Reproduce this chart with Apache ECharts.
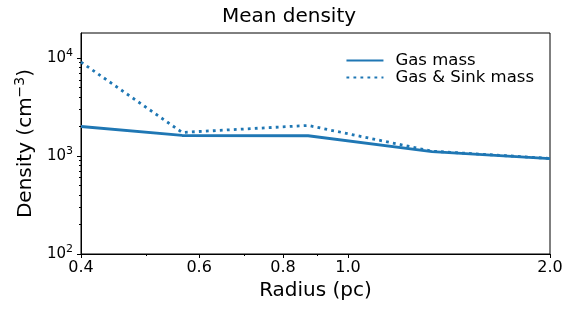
<!DOCTYPE html>
<html>
<head>
<meta charset="utf-8">
<script src="https://cdn.jsdelivr.net/npm/echarts@6/dist/echarts.min.js"></script>
<style>
  html, body { margin: 0; padding: 0; background: #fff; }
  #chart { width: 578px; height: 309px; }
</style>
</head>
<body>
<div id="chart"></div>
<script>
// radius (pc) of each sample
const radius = [0.4, 0.566, 0.872, 1.334, 2.0];
// mean density (cm^-3)
const gasMass = [2000, 1620, 1610, 1110, 940];
const gasSinkMass = [9100, 1740, 2050, 1120, 945];

const xTicks = [0.4, 0.6, 0.8, 1.0, 2.0];
const xTickLabels = ['0.4', '0.6', '0.8', '1.0', '2.0'];
const xMinorTicks = [0.5, 0.7, 0.9];
const yTicks = [100, 1000, 10000];
const yTickExp = ['2', '3', '4'];
const yMinorTicks = [200, 300, 400, 500, 600, 700, 800, 900,
  2000, 3000, 4000, 5000, 6000, 7000, 8000, 9000];

const blue = '#1f77b4';
const font = 'DejaVu Sans';

const chart = echarts.init(document.getElementById('chart'));

const pairs = ys => radius.map((x, i) => [x, ys[i]]);

const option = {
  animation: false,
  textStyle: { fontFamily: font },
  title: {
    text: 'Mean density',
    left: 'center',
    top: 2,
    textStyle: { fontFamily: font, fontSize: 20, fontWeight: 'normal', color: '#000' }
  },
  legend: {
    orient: 'vertical',
    right: 39,
    top: 47,
    itemWidth: 37,
    itemHeight: 14,
    itemGap: 0,
    itemStyle: { opacity: 0 },
    textStyle: { fontFamily: font, fontSize: 16.5, color: '#000', lineHeight: 17, padding: [0, 0, 0, 7] },
    data: ['Gas mass', 'Gas & Sink mass']
  },
  grid: {
    left: 81, right: 28, top: 33, bottom: 55,
    show: true, borderColor: '#000', borderWidth: 1
  },
  xAxis: [
    {
      type: 'log',
      min: 0.4,
      max: 2.0,
      name: 'Radius (pc)',
      nameLocation: 'middle',
      nameGap: 26,
      nameTextStyle: { fontFamily: font, fontSize: 20, color: '#000' },
      axisLine: { lineStyle: { color: '#000', width: 1 } },
      axisTick: { show: true, length: 4, lineStyle: { color: '#000' }, customValues: xTicks },
      axisLabel: {
        color: '#000', fontSize: 16, fontFamily: font, margin: 6,
        customValues: xTicks,
        formatter: v => {
          const i = xTicks.findIndex(t => Math.abs(t - v) < 1e-6);
          return i >= 0 ? xTickLabels[i] : '';
        }
      },
      splitLine: { show: false },
      minorTick: { show: false }
    },
    {
      type: 'log',
      min: 0.4,
      max: 2.0,
      position: 'bottom',
      axisLine: { show: false },
      axisTick: { show: true, length: 2, lineStyle: { color: '#000' }, customValues: xMinorTicks },
      axisLabel: { show: false, customValues: xMinorTicks },
      splitLine: { show: false }
    }
  ],
  yAxis: [
    {
      type: 'log',
      min: 100,
      max: 18000,
      name: 'Density (cm{sup|−3})',
      nameLocation: 'middle',
      nameGap: 42,
      nameTextStyle: {
        fontFamily: font, fontSize: 20, color: '#000',
        rich: { sup: { fontSize: 14, verticalAlign: 'bottom', padding: [0, 0, 12, 0], fontFamily: font, color: '#000' } }
      },
      axisLine: { show: true, lineStyle: { color: '#000', width: 1 } },
      axisTick: { show: true, length: 4, lineStyle: { color: '#000' }, customValues: yTicks },
      axisLabel: {
        color: '#000', fontSize: 15, fontFamily: font, margin: 8,
        customValues: yTicks,
        formatter: v => {
          const i = yTicks.findIndex(t => Math.abs(t - v) / t < 1e-6);
          return i >= 0 ? '10{sup|' + yTickExp[i] + '}' : '';
        },
        rich: {
          sup: { fontSize: 11, fontFamily: font, color: '#000', verticalAlign: 'bottom', padding: [0, 0, 9, 0] }
        }
      },
      splitLine: { show: false }
    },
    {
      type: 'log',
      min: 100,
      max: 18000,
      position: 'left',
      axisLine: { show: false },
      axisTick: { show: true, length: 2, lineStyle: { color: '#000' }, customValues: yMinorTicks },
      axisLabel: { show: false, customValues: yMinorTicks },
      splitLine: { show: false }
    }
  ],
  series: [
    {
      name: 'Gas mass',
      type: 'line',
      symbol: 'none',
      data: pairs(gasMass),
      lineStyle: { color: blue, width: 2.8 },
      itemStyle: { color: blue }
    },
    {
      name: 'Gas & Sink mass',
      type: 'line',
      symbol: 'none',
      data: pairs(gasSinkMass),
      lineStyle: { color: blue, width: 2.8, type: [2.8, 4.2] },
      itemStyle: { color: blue }
    }
  ]
};

chart.setOption(option);
</script>
</body>
</html>
